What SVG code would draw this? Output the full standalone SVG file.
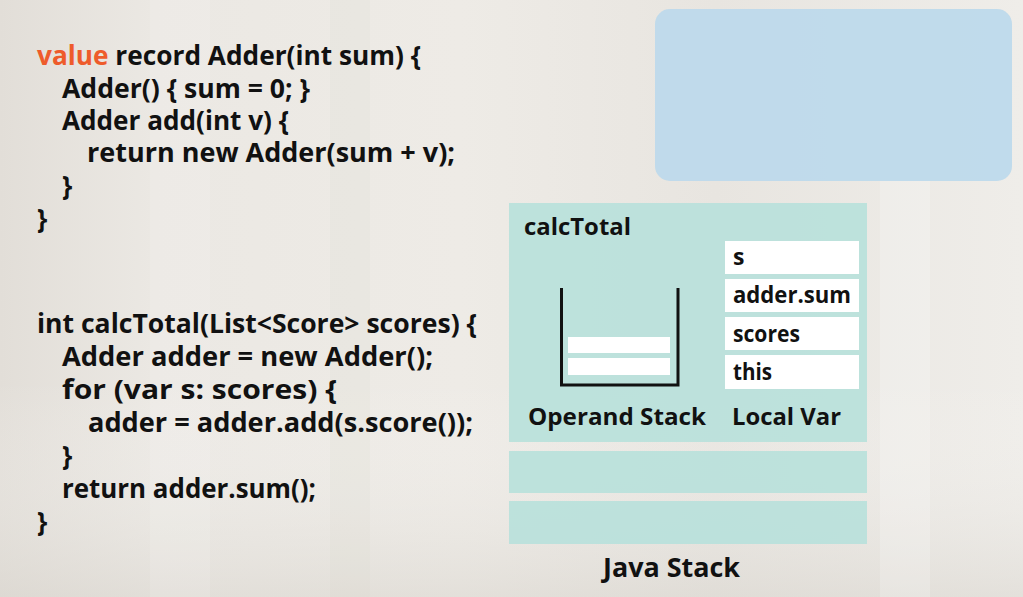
<svg xmlns="http://www.w3.org/2000/svg" width="1023" height="597" viewBox="0 0 1023 597">
  <defs>
    <linearGradient id="bg" x1="0" y1="0" x2="1" y2="0">
      <stop offset="0" stop-color="#e2ded8"/>
      <stop offset="0.15" stop-color="#ebe8e3"/>
      <stop offset="0.45" stop-color="#eeebe6"/>
      <stop offset="0.7" stop-color="#e8e5e0"/>
      <stop offset="1" stop-color="#efede9"/>
    </linearGradient>
    <linearGradient id="floor" x1="0" y1="0" x2="0" y2="1">
      <stop offset="0" stop-color="#ffffff" stop-opacity="0"/>
      <stop offset="1" stop-color="#d8d4cd" stop-opacity="0.5"/>
    </linearGradient>
    <style>
      .code { font-family: "Open Sans", "Liberation Sans", sans-serif; font-weight: 700; font-size: 26px; fill: #111111; }
      .kw { fill: #ee5b2b; }
      .lbl { font-family: "Open Sans", "Liberation Sans", sans-serif; font-weight: 700; font-size: 23px; fill: #111111; }
      .big { font-size: 27px; }
      .frame { fill: #b8e1db; fill-opacity: 0.92; }
      .cell { fill: #ffffff; }
      .stack { fill: none; stroke: #111111; stroke-width: 3; }
    </style>
  </defs>

  <!-- background -->
  <rect x="0" y="0" width="1023" height="597" fill="url(#bg)"/>
  <rect x="0" y="380" width="1023" height="217" fill="url(#floor)"/>
  <rect x="150" y="0" width="60" height="597" fill="#ffffff" fill-opacity="0.12"/>
  <rect x="330" y="0" width="40" height="597" fill="#d9d4cc" fill-opacity="0.15"/>
  <rect x="880" y="180" width="50" height="417" fill="#ffffff" fill-opacity="0.2"/>

  <!-- code block 1 -->
  <g id="code-adder">
    <text class="code" x="37" y="65" textLength="384" lengthAdjust="spacingAndGlyphs"><tspan class="kw">value</tspan> record Adder(int sum) {</text>
    <text class="code" x="62" y="97.5" textLength="248" lengthAdjust="spacingAndGlyphs">Adder() { sum = 0; }</text>
    <text class="code" x="62" y="130" textLength="227" lengthAdjust="spacingAndGlyphs">Adder add(int v) {</text>
    <text class="code" x="87" y="162" textLength="368" lengthAdjust="spacingAndGlyphs">return new Adder(sum + v);</text>
    <text class="code" x="62" y="195">}</text>
    <text class="code" x="37" y="228">}</text>
  </g>

  <!-- code block 2 -->
  <g id="code-calctotal">
    <text class="code" x="37" y="333" textLength="440" lengthAdjust="spacingAndGlyphs">int calcTotal(List&lt;Score&gt; scores) {</text>
    <text class="code" x="62" y="366" textLength="371" lengthAdjust="spacingAndGlyphs">Adder adder = new Adder();</text>
    <text class="code" x="62" y="399" textLength="275" lengthAdjust="spacingAndGlyphs">for (var s: scores) {</text>
    <text class="code" x="88" y="432" textLength="385" lengthAdjust="spacingAndGlyphs">adder = adder.add(s.score());</text>
    <text class="code" x="62" y="465">}</text>
    <text class="code" x="62" y="498" textLength="254" lengthAdjust="spacingAndGlyphs">return adder.sum();</text>
    <text class="code" x="37" y="531">}</text>
  </g>

  <!-- heap area -->
  <g id="heap">
    <rect x="655" y="9" width="357" height="172" rx="15" ry="15" fill="#bcd9ec" fill-opacity="0.92"/>
  </g>

  <!-- Java stack frames -->
  <g id="frame-calctotal">
    <rect class="frame" x="509" y="203" width="358" height="239"/>
    <text class="lbl" x="524" y="235" textLength="107" lengthAdjust="spacingAndGlyphs">calcTotal</text>
  </g>

  <g id="operand-stack">
    <path class="stack" d="M561.5 288 V385 H678 V288"/>
    <rect class="cell" x="568" y="337" width="102" height="16"/>
    <rect class="cell" x="568" y="358" width="102" height="17"/>
    <text class="lbl" x="528" y="425" textLength="178" lengthAdjust="spacingAndGlyphs">Operand Stack</text>
  </g>

  <g id="local-var">
    <rect class="cell" x="725" y="241" width="134" height="33"/>
    <rect class="cell" x="725" y="279" width="134" height="33"/>
    <rect class="cell" x="725" y="317" width="134" height="33"/>
    <rect class="cell" x="725" y="355" width="134" height="34"/>
    <text class="lbl" x="733" y="265">s</text>
    <text class="lbl" x="733" y="303" textLength="118" lengthAdjust="spacingAndGlyphs">adder.sum</text>
    <text class="lbl" x="733" y="341.5" textLength="67" lengthAdjust="spacingAndGlyphs">scores</text>
    <text class="lbl" x="733" y="380" textLength="39" lengthAdjust="spacingAndGlyphs">this</text>
    <text class="lbl" x="732" y="425" textLength="109" lengthAdjust="spacingAndGlyphs">Local Var</text>
  </g>

  <g id="frame-2">
    <rect class="frame" x="509" y="451" width="358" height="42"/>
  </g>
  <g id="frame-3">
    <rect class="frame" x="509" y="501" width="358" height="43"/>
  </g>

  <g id="java-stack-label">
    <text class="lbl big" x="603" y="577" textLength="137" lengthAdjust="spacingAndGlyphs">Java Stack</text>
  </g>

  <g id="connectors"/>
</svg>
